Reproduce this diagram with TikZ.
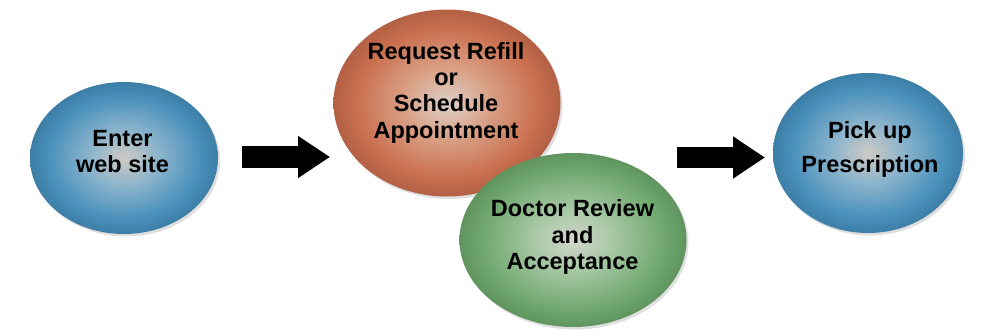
\documentclass[tikz,border=0pt]{standalone}
\usepackage{fontspec}
\setmainfont{Liberation Sans}
\usetikzlibrary{arrows.meta,shadows,shapes.geometric}
\definecolor{bcA}{HTML}{CFCAC4}
\definecolor{bcB}{HTML}{8DB5CC}
\definecolor{bcC}{HTML}{4A91BC}
\definecolor{bcD}{HTML}{3C7EA6}
\definecolor{ocA}{HTML}{DCD0C8}
\definecolor{ocB}{HTML}{D9A389}
\definecolor{ocC}{HTML}{CA6F4F}
\definecolor{ocD}{HTML}{B36045}
\definecolor{gcA}{HTML}{D2D6CC}
\definecolor{gcB}{HTML}{A6C7A3}
\definecolor{gcC}{HTML}{70A86F}
\definecolor{gcD}{HTML}{5F945F}
\pgfdeclareradialshading{bluebub}{\pgfpoint{0bp}{0bp}}{color(0bp)=(bcA); color(9bp)=(bcB); color(20bp)=(bcC); color(25bp)=(bcD); color(50bp)=(bcD)}
\pgfdeclareradialshading{orangebub}{\pgfpoint{0bp}{0bp}}{color(0bp)=(ocA); color(9bp)=(ocB); color(20bp)=(ocC); color(25bp)=(ocD); color(50bp)=(ocD)}
\pgfdeclareradialshading{greenbub}{\pgfpoint{0bp}{0bp}}{color(0bp)=(gcA); color(9bp)=(gcB); color(20bp)=(gcC); color(25bp)=(gcD); color(50bp)=(gcD)}
\tikzset{
  bubble/.style={ellipse, inner sep=0pt, draw=none,
    drop shadow={opacity=0.25, shadow xshift=2pt, shadow yshift=-2.5pt}},
  txt/.style={align=center, font=\fontsize{23.5}{26.3}\selectfont\bfseries, text=black, inner sep=0pt},
  bigarrow/.style={draw=black, line width=22pt, -{Triangle[length=32pt, width=40pt]}}
}
\begin{document}
\begin{tikzpicture}[x=1pt, y=-1pt]
\useasboundingbox[fill=white] (0,0) rectangle (984,335);
% bubbles
\node[bubble, shading=bluebub, minimum width=188pt, minimum height=152pt] (enter) at (124,158) {};
\node[bubble, shading=orangebub, minimum width=227pt, minimum height=187pt] (request) at (447,103) {};
\node[bubble, shading=greenbub, minimum width=227pt, minimum height=174pt] (review) at (573,240) {};
\node[bubble, shading=bluebub, minimum width=190pt, minimum height=160pt] (pickup) at (868,153) {};
% labels
\node[txt] (enterText) at (122.5,151.5) {Enter\\web site};
\node[txt] (requestText) at (446,92.5) {Request Refill\\or\\Schedule\\Appointment};
\node[txt] (reviewText) at (572.5,237) {Doctor Review\\and\\Acceptance};
\node[txt, font=\fontsize{23.5}{33.5}\selectfont\bfseries] (pickupText) at (870,149.5) {Pick up\\Prescription};
% arrows
\coordinate (a1s) at (242,157);
\coordinate (a1e) at (330,157);
\coordinate (a2s) at (677,157.5);
\coordinate (a2e) at (765,157.5);
\draw[bigarrow] (a1s) -- (a1e);
\draw[bigarrow, line width=21pt] (a2s) -- (a2e);
\end{tikzpicture}
\end{document}
